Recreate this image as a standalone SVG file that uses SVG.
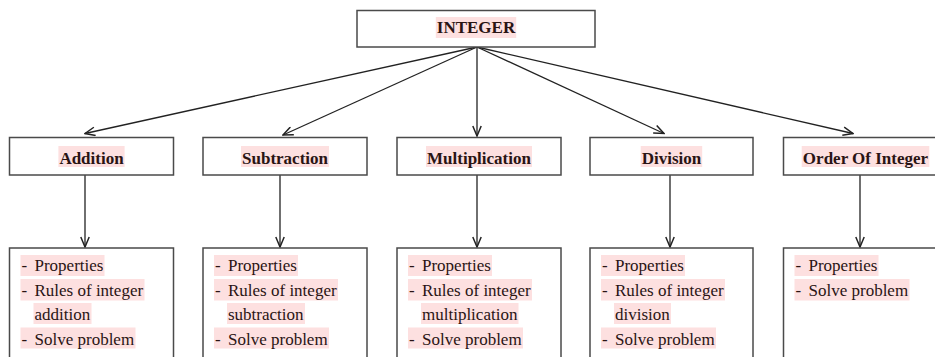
<svg xmlns="http://www.w3.org/2000/svg" width="935" height="357" viewBox="0 0 935 357">
<style>
.box{fill:#fff;stroke:#4a4a4a;stroke-width:1.5}
.hl{fill:#fde0e0}
.h{font-family:"Liberation Serif","Times New Roman",serif;font-size:17px;font-weight:bold;fill:#2a1414;text-anchor:middle}
.t{font-family:"Liberation Serif","Times New Roman",serif;font-size:17px;fill:#2a1414}
.c{fill:none;stroke:#222;stroke-width:1.3}
</style>
<defs>
<marker id="ah" markerUnits="userSpaceOnUse" viewBox="0 0 12 10" refX="11" refY="5" markerWidth="12" markerHeight="10" orient="auto">
<path d="M1,0.8 L11,5 L1,9.2" fill="none" stroke="#222" stroke-width="1.5"/>
</marker>
</defs>
<rect width="935" height="357" fill="#fff"/>
<g id="connectors">
<line class="c" x1="477" y1="47" x2="85" y2="133.5" marker-end="url(#ah)"/>
<line class="c" x1="477" y1="47" x2="283" y2="135" marker-end="url(#ah)"/>
<line class="c" x1="477" y1="47" x2="477" y2="136" marker-end="url(#ah)"/>
<line class="c" x1="477" y1="47" x2="664" y2="133.5" marker-end="url(#ah)"/>
<line class="c" x1="477" y1="47" x2="853" y2="133.5" marker-end="url(#ah)"/>
<line class="c" x1="85" y1="175" x2="85" y2="247" marker-end="url(#ah)"/>
<line class="c" x1="280" y1="175" x2="280" y2="247" marker-end="url(#ah)"/>
<line class="c" x1="477" y1="175" x2="477" y2="247" marker-end="url(#ah)"/>
<line class="c" x1="670" y1="175" x2="670" y2="247" marker-end="url(#ah)"/>
<line class="c" x1="860" y1="175" x2="860" y2="247" marker-end="url(#ah)"/>
</g>
<g id="integer">
<rect class="box" x="357" y="10.5" width="238" height="36.5"/>
<rect class="hl" x="435.8" y="17" width="80.4" height="21"/>
<text class="h" x="476" y="33">INTEGER</text>
</g>
<g id="addition">
<rect class="box" x="9.5" y="137.5" width="164" height="37.5"/>
<rect class="hl" x="58.4" y="146" width="66.2" height="21"/>
<text class="h" x="91.5" y="164">Addition</text>
</g>
<g id="subtraction">
<rect class="box" x="203" y="137.5" width="164" height="37.5"/>
<rect class="hl" x="241" y="146" width="88" height="21"/>
<text class="h" x="285" y="164">Subtraction</text>
</g>
<g id="multiplication">
<rect class="box" x="397" y="137.5" width="164" height="37.5"/>
<rect class="hl" x="426" y="146" width="106" height="21"/>
<text class="h" x="479" y="164">Multiplication</text>
</g>
<g id="division">
<rect class="box" x="590" y="137.5" width="163" height="37.5"/>
<rect class="hl" x="640.7" y="146" width="61.5" height="21"/>
<text class="h" x="671.5" y="164">Division</text>
</g>
<g id="order">
<rect class="box" x="783.5" y="137.5" width="164" height="37.5"/>
<rect class="hl" x="801.7" y="146" width="127.6" height="21"/>
<text class="h" x="865.5" y="164">Order Of Integer</text>
</g>
<g id="addition-topics">
<rect class="box" x="9.5" y="248" width="164" height="120"/>
<rect class="hl" x="20.5" y="255" width="84" height="21"/>
<rect class="hl" x="20.5" y="279" width="124" height="21.5"/>
<rect class="hl" x="33.5" y="303" width="58" height="21"/>
<rect class="hl" x="20.5" y="327.5" width="115" height="21"/>
<text class="t" x="21.5" y="271">-</text><text class="t" x="34.5" y="271">Properties</text>
<text class="t" x="21.5" y="296">-</text><text class="t" x="34.5" y="296">Rules of integer</text>
<text class="t" x="34.5" y="320">addition</text>
<text class="t" x="21.5" y="345">-</text><text class="t" x="34.5" y="345">Solve problem</text>
</g>
<g id="subtraction-topics">
<rect class="box" x="203" y="248" width="164" height="120"/>
<rect class="hl" x="214" y="255" width="84" height="21"/>
<rect class="hl" x="214" y="279" width="124" height="21.5"/>
<rect class="hl" x="227" y="303" width="78" height="21"/>
<rect class="hl" x="214" y="327.5" width="115" height="21"/>
<text class="t" x="215" y="271">-</text><text class="t" x="228" y="271">Properties</text>
<text class="t" x="215" y="296">-</text><text class="t" x="228" y="296">Rules of integer</text>
<text class="t" x="228" y="320">subtraction</text>
<text class="t" x="215" y="345">-</text><text class="t" x="228" y="345">Solve problem</text>
</g>
<g id="multiplication-topics">
<rect class="box" x="397" y="248" width="164" height="120"/>
<rect class="hl" x="408" y="255" width="84" height="21"/>
<rect class="hl" x="408" y="279" width="124" height="21.5"/>
<rect class="hl" x="421" y="303" width="97.5" height="21"/>
<rect class="hl" x="408" y="327.5" width="115" height="21"/>
<text class="t" x="409" y="271">-</text><text class="t" x="422" y="271">Properties</text>
<text class="t" x="409" y="296">-</text><text class="t" x="422" y="296">Rules of integer</text>
<text class="t" x="422" y="320">multiplication</text>
<text class="t" x="409" y="345">-</text><text class="t" x="422" y="345">Solve problem</text>
</g>
<g id="division-topics">
<rect class="box" x="590" y="248" width="163" height="120"/>
<rect class="hl" x="601" y="255" width="84" height="21"/>
<rect class="hl" x="601" y="279" width="124" height="21.5"/>
<rect class="hl" x="614" y="303" width="57" height="21"/>
<rect class="hl" x="601" y="327.5" width="115" height="21"/>
<text class="t" x="602" y="271">-</text><text class="t" x="615" y="271">Properties</text>
<text class="t" x="602" y="296">-</text><text class="t" x="615" y="296">Rules of integer</text>
<text class="t" x="615" y="320">division</text>
<text class="t" x="602" y="345">-</text><text class="t" x="615" y="345">Solve problem</text>
</g>
<g id="order-topics">
<rect class="box" x="783.5" y="248" width="164" height="120"/>
<rect class="hl" x="794.5" y="255" width="84" height="21"/>
<rect class="hl" x="794.5" y="279" width="115" height="21.5"/>
<text class="t" x="795.5" y="271">-</text><text class="t" x="808.5" y="271">Properties</text>
<text class="t" x="795.5" y="296">-</text><text class="t" x="808.5" y="296">Solve problem</text>
</g>
</svg>
